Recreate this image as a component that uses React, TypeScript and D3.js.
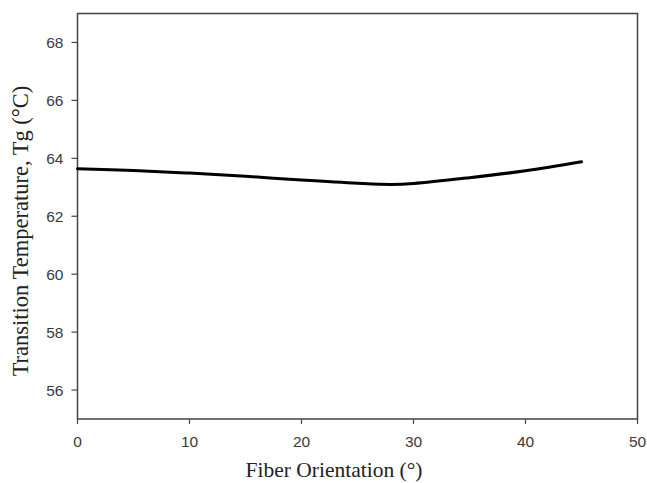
import React from "react";
import * as d3 from "d3";

const orientation = [0, 5, 10, 15, 20, 25, 28, 30, 35, 40, 45];
const tg = [63.64, 63.58, 63.49, 63.38, 63.25, 63.14, 63.1, 63.13, 63.33, 63.57, 63.88];
const xTicks = [0, 10, 20, 30, 40, 50];
const yTicks = [56, 58, 60, 62, 64, 66, 68];

export default function App() {
  const W = 647, H = 483;
  const left = 77.5, right = 637.5, top = 13.5, bottom = 419;
  const x = d3.scaleLinear().domain([0, 50]).range([left, right]);
  const y = d3.scaleLinear().domain([55, 69]).range([bottom, top]);
  const line = d3
    .line<number>()
    .x((_, i) => x(orientation[i]))
    .y((d) => y(d))
    .curve(d3.curveCatmullRom.alpha(0.5));
  const axisColor = "#444";
  const tickFont = "Liberation Sans, Arial, sans-serif";
  const titleFont = "Liberation Serif, Times New Roman, serif";
  return (
    <svg width={W} height={H} style={{ position: "absolute", left: 0, top: 0 }}>
      <rect x={0} y={0} width={W} height={H} fill="#fff" />
      <rect x={left} y={top} width={right - left} height={bottom - top} fill="none" stroke={axisColor} strokeWidth={1.5} />
      {yTicks.map((t) => (
        <g key={"y" + t}>
          <line x1={left - 6} x2={left} y1={y(t)} y2={y(t)} stroke={axisColor} strokeWidth={1.2} />
          <text x={left - 14} y={y(t)} dy="0.36em" textAnchor="end" fontFamily={tickFont} fontSize={15.5} fill="#3a3a3a">
            {t}
          </text>
        </g>
      ))}
      {xTicks.map((t) => (
        <g key={"x" + t}>
          <line x1={x(t)} x2={x(t)} y1={bottom} y2={bottom + 5} stroke={axisColor} strokeWidth={1.2} />
          <text x={x(t)} y={bottom + 28} textAnchor="middle" fontFamily={tickFont} fontSize={15.5} fill="#3a3a3a">
            {t}
          </text>
        </g>
      ))}
      <path d={line(tg) || ""} fill="none" stroke="#000" strokeWidth={3} strokeLinejoin="round" strokeLinecap="round" />
      <text x={334} y={477} textAnchor="middle" fontFamily={titleFont} fontSize={21.5} fill="#222">
        Fiber Orientation (°)
      </text>
      <text
        transform={`translate(28, 231) rotate(-90)`}
        textAnchor="middle"
        fontFamily={titleFont}
        fontSize={22.5}
        fill="#222"
      >
        Transition Temperature, Tg (°C)
      </text>
    </svg>
  );
}
